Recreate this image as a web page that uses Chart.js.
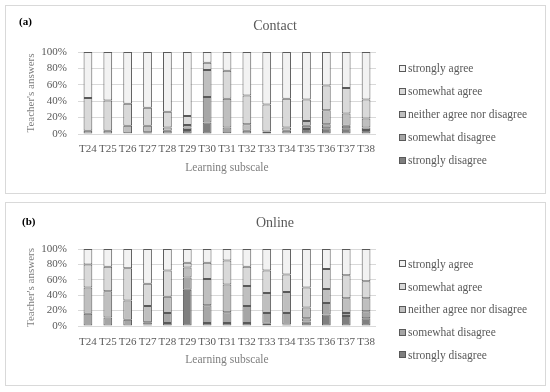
<!DOCTYPE html>
<html><head><meta charset="utf-8">
<script src="https://cdn.jsdelivr.net/npm/chart.js@4"></script>
<style>
html,body{margin:0;padding:0;background:#fff;}
body{width:550px;height:392px;position:relative;overflow:hidden;font-family:"Liberation Serif",serif;}
.panel{position:absolute;left:5px;width:541px;border:1px solid #d9d9d9;box-sizing:border-box;}
#pa{top:5px;height:189px;}
#pb{top:202px;height:184px;}
canvas{position:absolute;left:6px;}
#ca{top:6px;}
#cb{top:203px;}
.tag{position:absolute;font-weight:bold;font-size:11px;color:#000;line-height:12px;}
.legend{position:absolute;left:399px;color:#595959;font-size:11.5px;}
.item{display:flex;align-items:center;white-space:nowrap;}
.sw{width:7px;height:7px;border:1px solid #595959;box-sizing:border-box;margin-right:2px;flex:none;}
</style></head>
<body>
<div class="panel" id="pa"></div>
<div class="panel" id="pb"></div>
<canvas id="ca" width="538" height="186"></canvas>
<canvas id="cb" width="538" height="181"></canvas>
<div class="tag" style="left:19px;top:15px;">(a)</div>
<div class="tag" style="left:22px;top:215px;">(b)</div>
<div class="legend" id="la" style="top:56.8px;"></div>
<div class="legend" id="lb" style="top:252.6px;"></div>
<script>
const categories = ['T24','T25','T26','T27','T28','T29','T30','T31','T32','T33','T34','T35','T36','T37','T38'];
const seriesNames = ['strongly disagree','somewhat disagree','neither agree nor disagree','somewhat agree','strongly agree'];
const seriesColors = ['#7f7f7f','#a6a6a6','#bfbfbf','#d9d9d9','#f2f2f2'];
const yTicks = [0,20,40,60,80,100];

// Contact (a)
const contactStronglyDisagree = [0,0,0,0,0,5,14,1,0,0,0,6,7,7,5];
const contactSomewhatDisagree = [0,0,1,2,4,3,31,7,4,0,4,4,5,3,3];
const contactNeither          = [4,4,9,8,4,3,33,35,8,3,4,6,17,15,11];
const contactSomewhatAgree    = [40,37,27,22,19,11,9,34,35,33,35,26,30,31,23];
const contactStronglyAgree    = [56,59,63,68,73,78,13,23,53,64,57,58,41,44,58];

// Online (b)
const onlineStronglyDisagree = [0,0,0,2,4,47,4,4,4,3,2,6,15,13,10];
const onlineSomewhatDisagree = [16,11,8,3,13,16,23,14,22,14,15,4,15,4,9];
const onlineNeither          = [34,34,25,21,21,13,34,36,26,26,27,14,18,19,17];
const onlineSomewhatAgree    = [30,32,42,29,34,6,21,31,25,29,23,26,26,30,22];
const onlineStronglyAgree    = [20,23,25,45,28,18,18,15,23,28,33,50,26,34,42];

const FONT = '"Liberation Serif", serif';

function makeChart(id, titleText, series, xTickPad, xTitlePad) {
  const datasets = series.map((vals, i) => ({
    label: seriesNames[i],
    data: vals,
    backgroundColor: seriesColors[i],
    borderColor: '#595959',
    borderWidth: 1,
    borderSkipped: false,
    barPercentage: 0.44,
    categoryPercentage: 1
  }));
  return new Chart(document.getElementById(id), {
    type: 'bar',
    data: { labels: categories, datasets },
    options: {
      responsive: false,
      animation: false,
      layout: { padding: 0 },
      plugins: {
        legend: { display: false },
        tooltip: { enabled: false },
        title: {
          display: true, text: titleText, color: '#595959',
          font: { family: FONT, size: 14, weight: 'normal' },
          padding: { top: 11.6, bottom: 17.6 }
        }
      },
      scales: {
        x: {
          stacked: true,
          grid: { display: false, drawTicks: false },
          border: { display: false },
          ticks: { color: '#595959', font: { family: FONT, size: 11 }, padding: xTickPad, maxRotation: 0, autoSkip: false },
          title: { display: true, text: 'Learning subscale', color: '#7f7f7f', font: { family: FONT, size: 11.5 }, padding: { top: 2, bottom: xTitlePad } },
          afterFit: s => { s.height = 58; }
        },
        y: {
          stacked: true, min: 0, max: 100,
          afterBuildTicks: s => { s.ticks = yTicks.map(v => ({ value: v })); },
          ticks: { color: '#595959', font: { family: FONT, size: 11 }, padding: 11, autoSkip: false, callback: v => v + '%' },
          grid: { color: '#d9d9d9', drawTicks: false },
          border: { display: false },
          title: { display: true, text: "Teacher's answers", color: '#7f7f7f', font: { family: FONT, size: 11 }, padding: { top: 19, bottom: 0 } },
          afterFit: s => { s.width = 72; }
        },
        legendSpace: {
          type: 'linear', position: 'right', display: true,
          grid: { display: false, drawTicks: false },
          border: { display: false },
          ticks: { display: false },
          afterFit: s => { s.width = 168; }
        }
      }
    }
  });
}

function buildLegend(elId, rowH) {
  const el = document.getElementById(elId);
  for (let i = seriesNames.length - 1; i >= 0; i--) {
    const row = document.createElement('div');
    row.className = 'item';
    row.style.height = rowH + 'px';
    const sw = document.createElement('span');
    sw.className = 'sw';
    sw.style.background = seriesColors[i];
    const tx = document.createElement('span');
    tx.textContent = seriesNames[i];
    row.appendChild(sw); row.appendChild(tx);
    el.appendChild(row);
  }
}

makeChart('ca', 'Contact', [contactStronglyDisagree, contactSomewhatDisagree, contactNeither, contactSomewhatAgree, contactStronglyAgree], 8.4, 17.4);
makeChart('cb', 'Online', [onlineStronglyDisagree, onlineSomewhatDisagree, onlineNeither, onlineSomewhatAgree, onlineStronglyAgree], 9.1, 16.8);
buildLegend('la', 23);
buildLegend('lb', 22.7);
</script>
</body></html>
